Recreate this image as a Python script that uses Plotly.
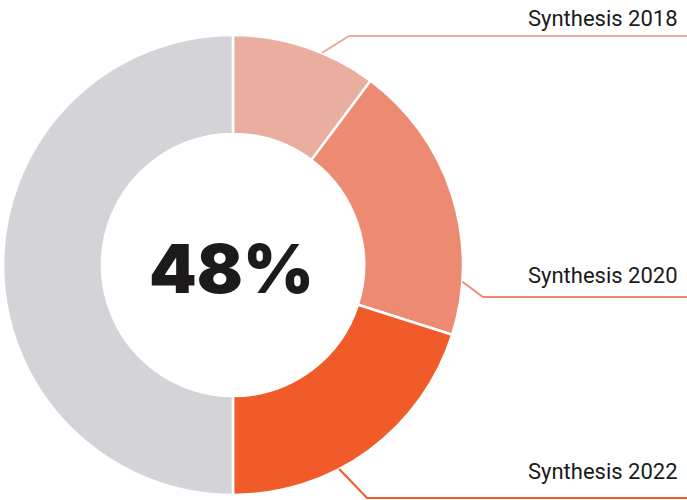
import math
import plotly.graph_objects as go

# ---- data ----
labels = ["Synthesis 2018", "Synthesis 2020", "Synthesis 2022", "Other"]
values = [10.2, 19.7, 20.1, 50.0]
colors = ["#E9AE9F", "#EC8B72", "#F15A29", "#D4D4D8"]
center_text = "48%"
leader_labels = ["Synthesis 2018", "Synthesis 2020", "Synthesis 2022"]

# ---- layout geometry (pixels) ----
W, H = 687, 500
cx, cy, R = 233, 265, 230
hole = 0.57
anchor_frac = [0.62, 0.81, 0.62]      # where the leader leaves the slice
elbow = [(349, 36), (483, 297), (367, 498)]
label_y = [18, 275, 471]

def px(x):
    return x / W

def py(y):
    return 1 - y / H

fig = go.Figure(go.Pie(
    labels=labels, values=values, sort=False, direction="clockwise",
    rotation=0, hole=hole, textinfo="none", hoverinfo="label+value",
    marker=dict(colors=colors, line=dict(color="white", width=2.5)),
    domain=dict(x=[px(cx - R), px(cx + R)], y=[py(cy + R), py(cy - R)]),
    showlegend=False,
))

total = sum(values)
start = 0.0
shapes, annotations = [], []
for i, lab in enumerate(leader_labels):
    span = values[i] / total * 360
    ang = math.radians(start + anchor_frac[i] * span)
    start += span
    x0 = cx + R * math.sin(ang)
    y0 = cy - R * math.cos(ang)
    ex, ey = elbow[i]
    path = f"M {px(x0)} {py(y0)} L {px(ex)} {py(ey)} L 1.0 {py(ey)}"
    shapes.append(dict(type="path", path=path, xref="paper", yref="paper",
                       line=dict(color=colors[i], width=2)))
    annotations.append(dict(text=lab, x=px(680), y=py(label_y[i]), xref="paper", yref="paper",
                            xanchor="right", yanchor="middle", showarrow=False,
                            font=dict(family="Roboto", size=22, color="#1a1a1a")))

annotations.append(dict(text=center_text, x=px(cx - 2), y=py(cy + 3),
                        xref="paper", yref="paper", showarrow=False,
                        xanchor="center", yanchor="middle",
                        font=dict(family="Inter", size=68, color="#1c1a1b", weight=900)))

fig.update_layout(
    width=W, height=H, margin=dict(l=0, r=0, t=0, b=0),
    paper_bgcolor="white", plot_bgcolor="white",
    shapes=shapes, annotations=annotations,
)

fig.write_html("out.html", config={"displayModeBar": False},
               post_script="document.body.style.margin='0';")
